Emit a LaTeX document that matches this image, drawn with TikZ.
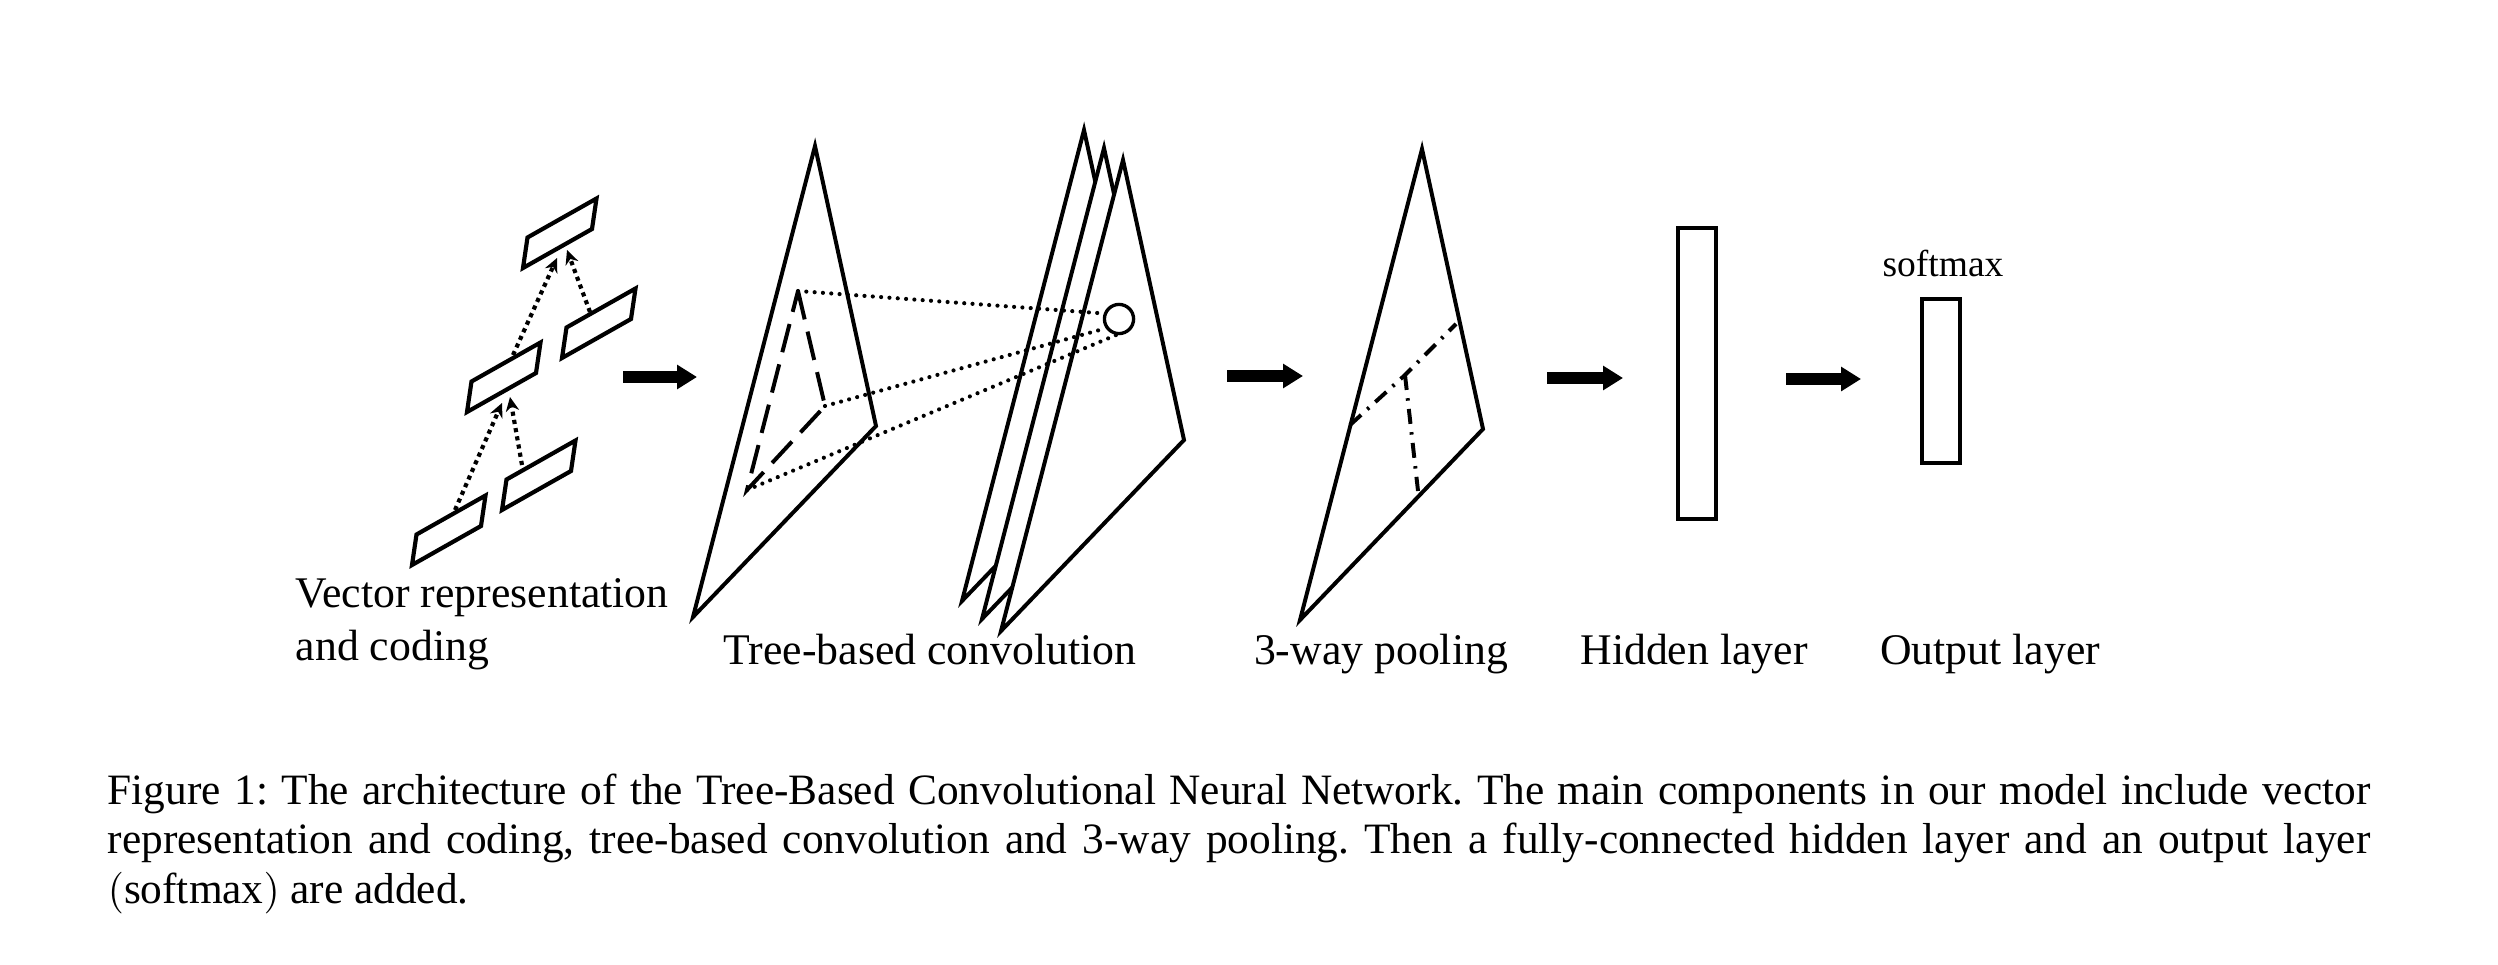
\documentclass[tikz,border=0pt]{standalone}
\usepackage{fontspec}
\setmainfont{Liberation Serif}
\usetikzlibrary{arrows.meta,calc}

\begin{document}
\begin{tikzpicture}[x=0.24pt, y=-0.24pt,
        vecbox/.style={line width=1pt},
        feature/.style={line width=0.95pt, fill=white},
        link/.style={line width=1pt, densely dotted, -{Stealth[length=3.4pt, width=3.2pt]}},
        receptive/.style={line width=1pt, line cap=round, dash pattern=on 0pt off 2pt},
        subtree/.style={line width=0.95pt, dash pattern=on 7pt off 3pt},
        pooled/.style={line width=0.95pt, dash pattern=on 3.6pt off 2pt on 0.6pt off 2pt},
        flow/.style={line width=3pt, -{Triangle[length=4.8pt, width=5.6pt]}},
        layer/.style={draw, line width=0.8pt, inner sep=0pt, minimum width=9.1pt},
        txt/.style={font=\fontsize{10.5}{12.5}\selectfont, anchor=base}]
        \useasboundingbox (0, 0) rectangle (2498, 964);
        \foreach \n/\x/\y in {b1/523/268, b2/562/358, b3/467/412, b4/502/510, b5/412/565}
            \draw[vecbox] (\x, \y) coordinate (\n) -- ++(69, -39) -- ++(4.5, -30.5) -- ++(-69, 39) -- cycle;
        \draw[link] ($(b5)+(43, -55)$) -- ($(b3)+(35, -9)$);
        \draw[link] ($(b4)+(20, -45)$) -- ($(b3)+(43, -15)$);
        \draw[link] ($(b3)+(46, -57)$) -- ($(b1)+(34, -10)$);
        \draw[link] ($(b2)+(28, -46)$) -- ($(b1)+(44, -18)$);
        \foreach \n/\x/\y in {tin/815/146, fa/1084/130, fb/1104/148, fc/1123/160, pool/1422/149}
            \draw[feature] (\x, \y) coordinate (\n) -- ++(-122, 471) -- ++(183, -191) -- cycle;
        \coordinate (t1) at (798, 291);
        \coordinate (t2) at (825, 406);
        \coordinate (t3) at (747, 490);
        \draw[subtree] (t1) -- (t2) -- (t3) -- cycle;
        \node[draw, circle, line width=0.8pt, minimum size=7pt, inner sep=0pt] (conv) at (1119, 319) {};
        \draw[receptive] (t1) -- (conv.160);
        \draw[receptive] (t2) -- (conv.215);
        \draw[receptive] (t3) -- (conv.260);
        \coordinate (p1) at (1350, 425);
        \coordinate (pc) at (1405, 375);
        \coordinate (p2) at (1456, 324);
        \coordinate (p3) at (1418, 491);
        \draw[pooled] (p1) -- (pc) -- (p2);
        \draw[pooled] (pc) -- (p3);
        \node[layer, minimum height=69.8pt] (hidden) at (1697, 373.5) {};
        \node[layer, minimum height=39.4pt] (output) at (1941, 381) {};
        \node[font=\fontsize{9}{11}\selectfont, anchor=base] (smax) at (1943, 276) {softmax};
        \foreach \n/\x/\e/\y in {f1/623/697/377, f2/1227/1303/376, f3/1547/1623/378, f4/1786/1861/379} {
            \coordinate (\n s) at (\x, \y);
            \coordinate (\n e) at (\e, \y);
            \draw[flow] (\n s) -- (\n e);
        }
        \node[txt, anchor=base west, align=left] (lvec) at (281, 660) {Vector representation\\and coding};
        \node[txt] (lconv) at (930, 664) {Tree-based convolution};
        \node[txt] (lpool) at (1381, 664) {3-way pooling};
        \node[txt] (lhid) at (1694, 664) {Hidden layer};
        \node[txt] (lout) at (1990, 664) {Output layer};
        \node[anchor=base west, text width=543pt, align=justify, inner sep=0pt, font=\fontsize{10.4}{11.9}\selectfont\frenchspacing] (caption) at (107, 804)
            {Figure 1: The architecture of the Tree-Based Convolutional Neural Network. The main components in our model include vector\linebreak
            representation and coding, tree-based convolution and 3-way pooling. Then a fully-connected hidden layer and an output layer\linebreak
            $(\mathrm{softmax})$ are added.};
    \end{tikzpicture}
\end{document}
